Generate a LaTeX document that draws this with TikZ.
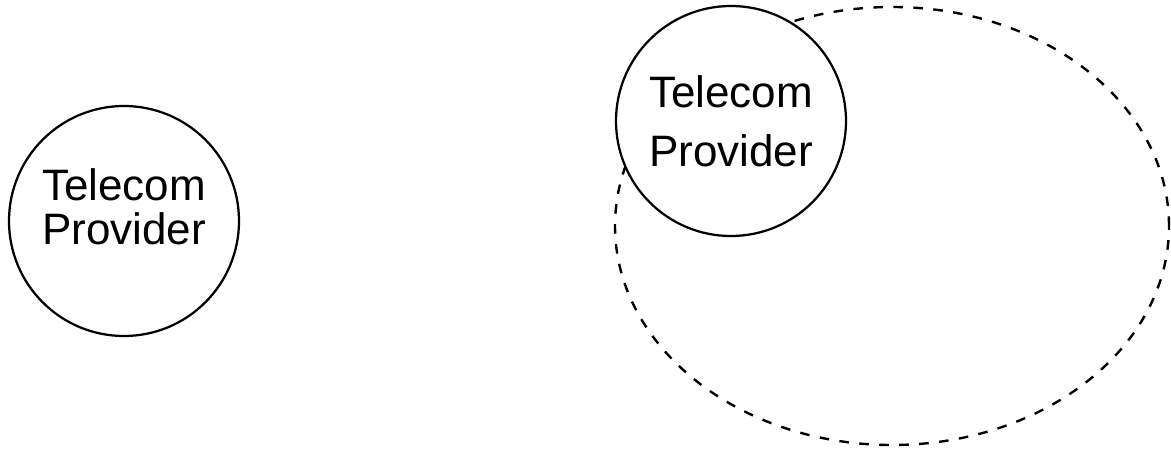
\documentclass[tikz,border=0pt]{standalone}
\usepackage{fontspec}
\setmainfont{Liberation Sans}
\usetikzlibrary{positioning}

\begin{document}
\begin{tikzpicture}[
        font=\fontsize{31.3}{31.3}\selectfont,
        provider/.style={
            circle,
            draw,
            fill=white,
            line width=1.6pt,
            minimum size=5.75cm,
            inner sep=0pt,
            align=center
        },
        coverage/.style={
            draw,
            line width=1.7pt,
            dash pattern=on 0.24cm off 0.26cm
        }
    ]
        \useasboundingbox (0,0) rectangle (29.275,11.2);

        % Coverage area behind the second provider
        \draw[coverage] (22.3,5.55) ellipse [x radius=6.925cm, y radius=5.475cm];

        % Providers
        \node[provider, text depth=0.7cm] (provA) at (3.1,5.675)
            {Telecom\\Provider};
        \node[provider] (provB) at (18.275,8.175)
            {Telecom\\[0.375cm]Provider};
    \end{tikzpicture}
\end{document}
